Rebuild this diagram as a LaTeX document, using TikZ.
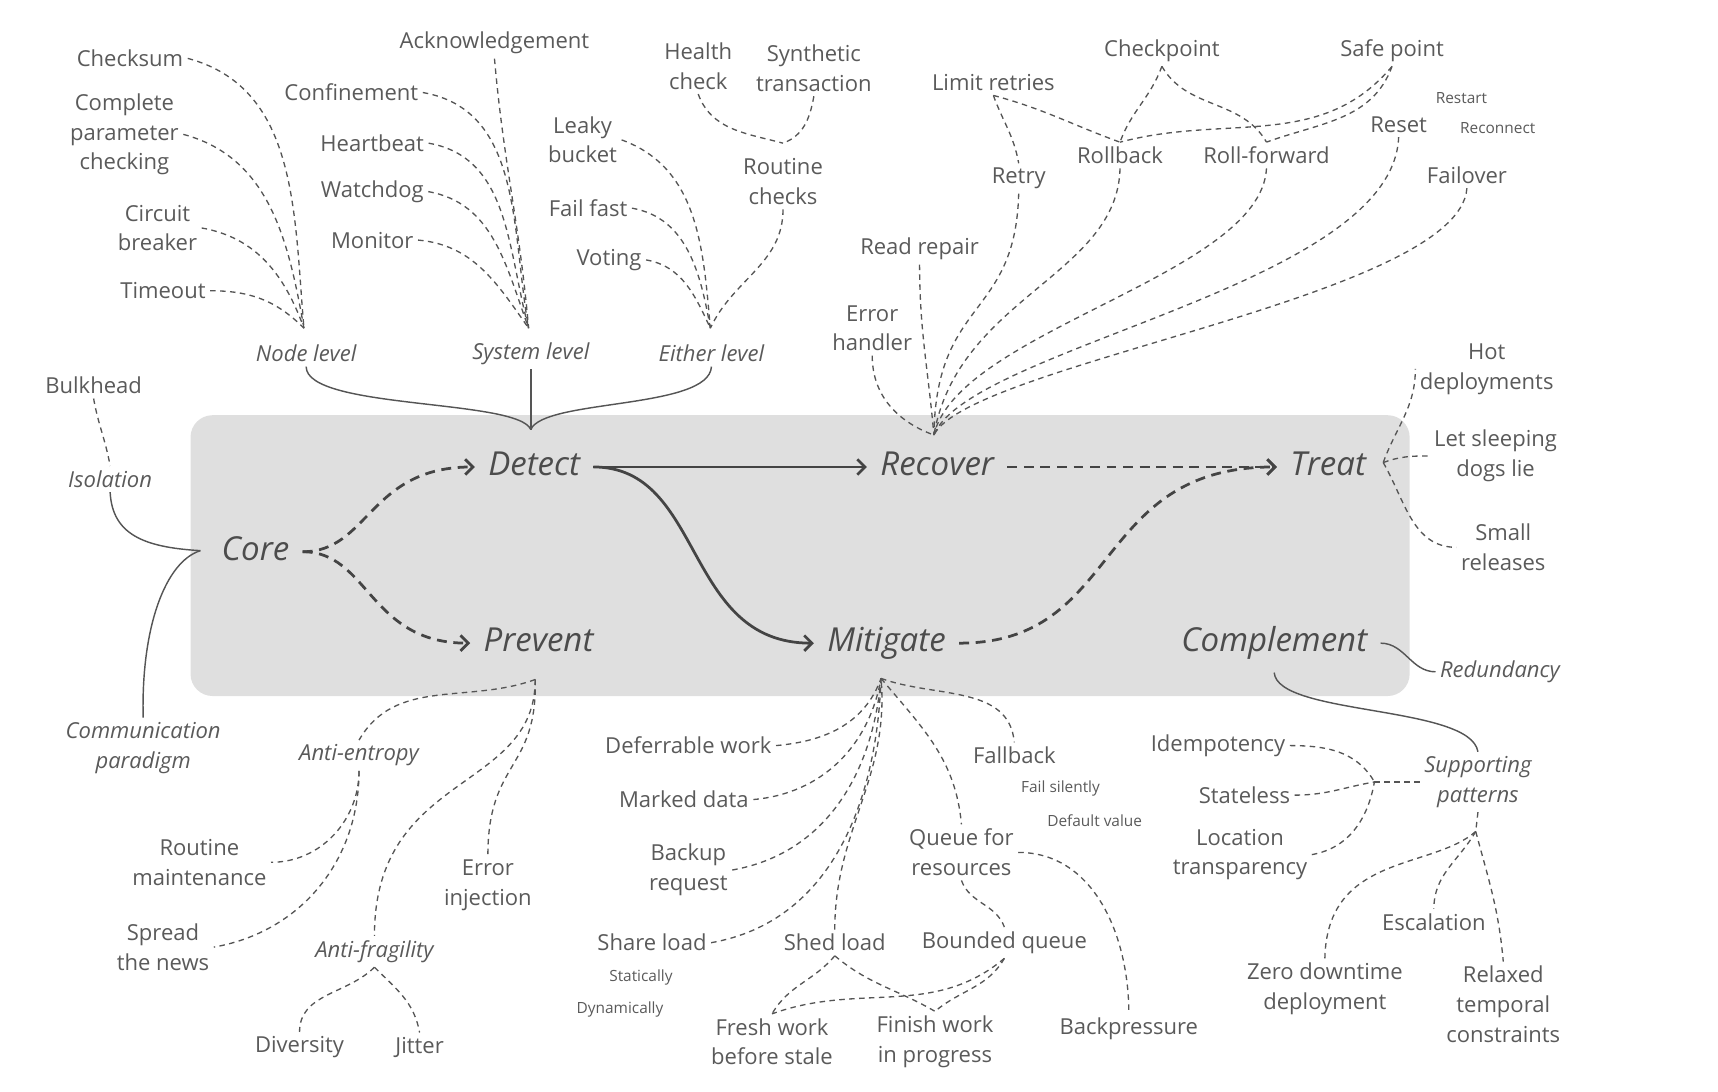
\documentclass[tikz,border=0pt]{standalone}
\usepackage{fontspec}
\setmainfont{Open Sans}
\usetikzlibrary{arrows.meta}
\definecolor{encre}{HTML}{5A5A5A}
\definecolor{trait}{HTML}{555555}
\definecolor{fond}{HTML}{DFDFDF}

\begin{document}
\begin{tikzpicture}[x=1pt,y=1pt]

\tikzset{txt/.style={text=encre,font=\fontsize{20}{27}\selectfont,align=center,inner sep=4pt}, %textes
	niv/.style={txt,font=\fontsize{20}{27}\selectfont\itshape},
	grand/.style={text=encre!85!black,font=\fontsize{30}{36}\selectfont\itshape,inner sep=12pt,text height=22pt,text depth=7pt},
	mini/.style={txt,font=\fontsize{14}{17}\selectfont},
	lien/.style={trait,dash pattern=on 5pt off 4pt,line width=1.2pt},
	accol/.style={trait,line width=1.3pt},
	fleche/.style={trait!80!black,line width=2.5pt,-{Straight Barb[length=7pt,width=14pt]}},
	flechep/.style={fleche,dash pattern=on 9pt off 6pt}}

\useasboundingbox (0,0) rectangle (1560,-991.5);

%bloc central
\fill[fond,rounded corners=20pt] (173,-377) rectangle (1280,-632);

\node[grand] (core) at (232,-501) {Core};
\node[grand] (detect) at (485,-424) {Detect};
\node[grand] (recover) at (851,-424) {Recover};
\node[grand] (treat) at (1206,-424) {Treat};
\node[grand] (prevent) at (489,-584) {Prevent};
\node[grand] (mitigate) at (805,-584) {Mitigate};
\node[grand] (complement) at (1157,-584) {Complement};

\draw[flechep] (core.east) .. controls (335,-501) and (335,-424) .. (detect.west);
\draw[flechep] (core.east) .. controls (335,-501) and (335,-584) .. (prevent.west);
\draw[fleche] (detect.east) -- (recover.west);
\draw[fleche] (detect.east) .. controls (640,-424) and (620,-584) .. (mitigate.west);
\draw[flechep] (recover.east) -- (treat.west);
\draw[flechep] (mitigate.east) .. controls (1020,-584) and (990,-424) .. (treat.west);

%----------detect------------
\node[txt] (checksum) at (118,-53) {Checksum};
\node[txt] (param) at (113,-122) {Complete\\parameter\\checking};
\node[txt] (circuit) at (143,-207) {Circuit\\breaker};
\node[txt] (timeout) at (148,-264) {Timeout};
\node[niv] (nodelvl) at (278,-321) {Node level};
\coordinate (cnode) at (276,-298);
\draw[lien] (checksum.east) to[out=-15,in=95] (cnode);
\draw[lien] (param.east) to[out=-15,in=100] (cnode);
\draw[lien] (circuit.east) to[out=-10,in=110] (cnode);
\draw[lien] (timeout.east) to[out=0,in=135] (cnode);

\node[txt] (ack) at (449,-39) {Acknowledgement};
\node[txt] (confine) at (319,-84) {Confinement};
\node[txt] (heart) at (338,-130) {Heartbeat};
\node[txt] (watch) at (338,-174) {Watchdog};
\node[txt] (monitor) at (338,-218) {Monitor};
\node[niv] (syslvl) at (482,-321) {System level};
\coordinate (csys) at (480,-298);
\draw[lien] (ack.south) to[out=-85,in=95] (csys);
\draw[lien] (confine.east) to[out=-10,in=100] (csys);
\draw[lien] (heart.east) to[out=-10,in=105] (csys);
\draw[lien] (watch.east) to[out=-10,in=110] (csys);
\draw[lien] (monitor.east) to[out=-5,in=125] (csys);

\node[txt] (leaky) at (529,-127) {Leaky\\bucket};
\node[txt] (failfast) at (534,-189) {Fail fast};
\node[txt] (voting) at (553,-236) {Voting};
\node[txt] (health) at (634,-60) {Health\\check};
\node[txt] (synth) at (739,-62) {Synthetic\\transaction};
\node[txt] (routine) at (711,-165) {Routine\\checks};
\node[niv] (either) at (646,-321) {Either level};
\coordinate (croutine) at (711,-130);
\coordinate (ceither) at (645,-298);
\draw[lien] (leaky.east) to[out=-20,in=95] (ceither);
\draw[lien] (failfast.east) to[out=-10,in=100] (ceither);
\draw[lien] (voting.east) to[out=-10,in=115] (ceither);
\draw[lien] (routine.south) to[out=-90,in=65] (ceither);
\draw[lien] (health.south) to[out=-70,in=165] (croutine);
\draw[lien] (synth.south) to[out=-100,in=20] (croutine);

%accolade
\coordinate (cdetect) at (482,-390);
\draw[accol] (nodelvl.south) .. controls (278,-372) and (470,-362) .. (cdetect);
\draw[accol] (either.south) .. controls (644,-372) and (494,-362) .. (cdetect);
\draw[accol] (syslvl.south) -- (cdetect);

%----------core------------
\node[txt] (bulkhead) at (85,-350) {Bulkhead};
\node[niv] (isolation) at (100,-435) {Isolation};
\node[niv] (commpar) at (130,-679) {Communication\\paradigm};
\coordinate (ccore) at (182,-500);
\draw[lien] (bulkhead.south) to[out=-80,in=100] (isolation.north);
\draw[accol] (ccore) .. controls (130,-497) and (102,-485) .. (isolation.south);
\draw[accol] (ccore) .. controls (150,-510) and (128,-570) .. (commpar.north);

%----------prevent------------
\coordinate (cprev) at (486,-617);
\node[niv] (antient) at (326,-686) {Anti-entropy};
\node[niv] (antifrag) at (340,-864) {Anti-fragility};
\node[txt] (errinj) at (443,-804) {Error\\injection};
\node[txt] (routmaint) at (181,-783) {Routine\\maintenance};
\node[txt] (spread) at (148,-860) {Spread\\the news};
\node[txt] (diversity) at (272,-951) {Diversity};
\node[txt] (jitter) at (381,-951) {Jitter};
\draw[lien] (cprev) to[out=-160,in=60] (antient.north);
\draw[lien] (cprev) .. controls (486,-720) and (340,-700) .. (antifrag.north);
\draw[lien] (cprev) .. controls (488,-700) and (443,-690) .. (errinj.north);
\draw[lien] (antient.south) to[out=-90,in=0] (routmaint.east);
\draw[lien] (antient.south) to[out=-90,in=10] (spread.east);
\draw[lien] (antifrag.south) to[out=-135,in=90] (diversity.north);
\draw[lien] (antifrag.south) to[out=-45,in=100] (jitter.north);

%----------mitigate------------
\coordinate (cmitig) at (800,-616);
\node[txt] (defer) at (625,-677) {Deferrable work};
\node[txt] (marked) at (621,-726) {Marked data};
\node[txt] (backup) at (625,-790) {Backup\\request};
\node[txt] (share) at (592,-856) {Share load};
\node[mini] (statically) at (582,-888) {Statically};
\node[mini] (dynamically) at (563,-917) {Dynamically};
\node[txt] (shed) at (758,-856) {Shed load};
\node[txt] (bounded) at (912,-856) {Bounded queue};
\node[txt] (fresh) at (701,-946) {Fresh work\\before stale};
\node[txt] (finish) at (849,-946) {Finish work\\in progress};
\node[txt] (queue) at (873,-774) {Queue for\\resources};
\node[txt] (fallback) at (921,-686) {Fallback};
\node[mini] (failsil) at (963,-716) {Fail silently};
\node[mini] (defval) at (994,-745) {Default value};
\node[txt] (backpress) at (1025,-934) {Backpressure};
\draw[lien] (defer.east) to[out=5,in=-110] (cmitig);
\draw[lien] (marked.east) to[out=5,in=-100] (cmitig);
\draw[lien] (backup.east) to[out=10,in=-95] (cmitig);
\draw[lien] (share.east) to[out=10,in=-92] (cmitig);
\draw[lien] (shed.north) to[out=90,in=-85] (cmitig);
\draw[lien] (cmitig) to[out=-50,in=95] (queue.north);
\draw[lien] (cmitig) to[out=-20,in=95] (fallback.north);
\draw[lien] (queue.south) to[out=-70,in=110] (bounded.north);
\draw[lien] (queue.east) to[out=0,in=90] (backpress.north);
\draw[lien] (shed.south) to[out=-130,in=60] (fresh.north);
\draw[lien] (shed.south) to[out=-40,in=150] (finish.north);
\draw[lien] (bounded.south) to[out=-140,in=20] (fresh.north);
\draw[lien] (bounded.south) to[out=-120,in=40] (finish.north);

%----------recover------------
\coordinate (crecov) at (848,-395);
\node[txt] (errhand) at (792,-298) {Error\\handler};
\node[txt] (readrep) at (835,-226) {Read repair};
\node[txt] (retry) at (925,-162) {Retry};
\node[txt] (limit) at (902,-75) {Limit retries};
\node[txt] (rollback) at (1017,-141) {Rollback};
\node[txt] (rollfwd) at (1150,-141) {Roll-forward};
\node[txt] (checkpt) at (1055,-46) {Checkpoint};
\node[txt] (safept) at (1264,-46) {Safe point};
\node[mini] (restart) at (1327,-89) {Restart};
\node[txt] (reset) at (1270,-113) {Reset};
\node[mini] (reconnect) at (1360,-116) {Reconnect};
\node[txt] (failover) at (1332,-159) {Failover};
\draw[lien] (errhand.south) to[out=-90,in=160] (crecov);
\draw[lien] (readrep.south) to[out=-90,in=95] (crecov);
\draw[lien] (retry.south) .. controls (922,-290) and (850,-270) .. (crecov);
\draw[lien] (rollback.south) .. controls (1015,-250) and (870,-270) .. (crecov);
\draw[lien] (rollfwd.south) .. controls (1145,-250) and (870,-300) .. (crecov);
\draw[lien] (reset.south) .. controls (1265,-260) and (880,-315) .. (crecov);
\draw[lien] (failover.south) .. controls (1325,-270) and (880,-330) .. (crecov);
\draw[lien] (limit.south) to[out=-70,in=100] (retry.north);
\draw[lien] (limit.south) to[out=-15,in=160] (rollback.north);
\draw[lien] (checkpt.south) to[out=-110,in=70] (rollback.north);
\draw[lien] (checkpt.south) to[out=-60,in=120] (rollfwd.north);
\draw[lien] (safept.south) to[out=-110,in=20] (rollfwd.north);
\draw[lien] (safept.south) to[out=-130,in=15] (rollback.north);

%----------treat------------
\coordinate (ctreat) at (1256,-420);
\node[txt] (hot) at (1350,-335) {Hot\\deployments};
\node[txt] (sleeping) at (1358,-414) {Let sleeping\\dogs lie};
\node[txt] (small) at (1365,-497) {Small\\releases};
\draw[lien] (ctreat) to[out=70,in=-90] (hot.west);
\draw[lien] (ctreat) to[out=20,in=180] (sleeping.west);
\draw[lien] (ctreat) to[out=-60,in=180] (small.west);

%----------complement------------
\node[niv] (redund) at (1362,-610) {Redundancy};
\node[niv] (supp) at (1342,-710) {Supporting\\patterns};
\draw[accol] (complement.east) to[out=0,in=180] (redund.west);
\draw[accol] (complement.south) .. controls (1160,-650) and (1335,-640) .. (supp.north);

\node[txt] (idem) at (1106,-677) {Idempotency};
\node[txt] (stateless) at (1130,-722) {Stateless};
\node[txt] (location) at (1126,-776) {Location\\transparency};
\coordinate (csuppl) at (1248,-710);
\coordinate (csuppb) at (1340,-755);
\draw[lien] (idem.east) to[out=0,in=120] (csuppl);
\draw[lien] (stateless.east) to[out=0,in=-170] (csuppl);
\draw[lien] (location.east) to[out=10,in=-100] (csuppl);
\draw[lien] (csuppl) -- (supp.west);
\draw[lien] (supp.south) -- (csuppb);

\node[txt] (zero) at (1203,-898) {Zero downtime\\deployment};
\node[txt] (escal) at (1302,-837) {Escalation};
\node[txt] (relax) at (1365,-912) {Relaxed\\temporal\\constraints};
\draw[lien] (csuppb) .. controls (1300,-790) and (1205,-775) .. (zero.north);
\draw[lien] (csuppb) to[out=-120,in=90] (escal.north);
\draw[lien] (csuppb) to[out=-75,in=95] (relax.north);

\end{tikzpicture}
\end{document}
